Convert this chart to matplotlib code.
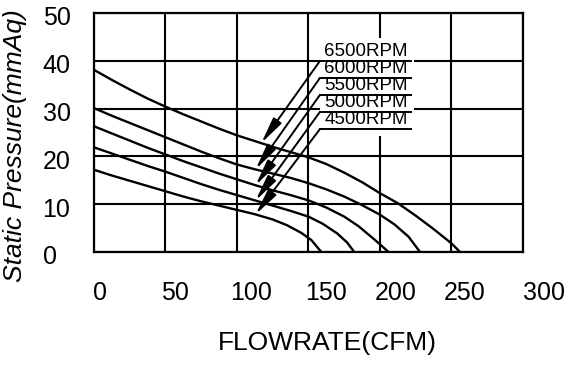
import numpy as np
import matplotlib
matplotlib.use("Agg")
import matplotlib.pyplot as plt
from matplotlib.transforms import ScaledTranslation
from matplotlib.patches import Rectangle

plt.rcParams['font.family'] = ['Liberation Sans', 'DejaVu Sans']

# data (flowrate CFM -> static pressure mmAq)
rpm_labels = ["6500RPM", "6000RPM", "5500RPM", "5000RPM", "4500RPM"]
cfm_6500 = [0, 12.5, 25, 37.5, 50, 62.5, 75, 87.5, 100, 112.5, 125, 137.5, 150,
            162.5, 175, 187.5, 200, 212.5, 225, 237.5, 250, 256]
sp_6500 = [38.1, 36.0, 34.0, 32.1, 30.4, 28.8, 27.3, 25.8, 24.4, 23.2, 22.0, 20.9, 19.8,
           18.4, 16.6, 14.6, 12.3, 10.2, 7.6, 4.8, 1.8, 0]
cfm_6000 = [0, 12.5, 25, 37.5, 50, 62.5, 75, 87.5, 100, 112.5, 125, 137.5, 150,
            162.5, 175, 187.5, 200, 210, 220, 228]
sp_6000 = [30.1, 28.5, 27.0, 25.5, 24.0, 22.5, 21.0, 19.6, 18.3, 17.3, 16.4, 15.5, 14.4,
           13.1, 11.6, 9.8, 7.8, 5.8, 3.2, 0]
cfm_5500 = [0, 12.5, 25, 37.5, 50, 62.5, 75, 87.5, 100, 112.5, 125, 137.5, 150,
            162.5, 175, 185, 195, 200, 206]
sp_5500 = [26.3, 24.8, 23.3, 21.8, 20.4, 19.0, 17.7, 16.4, 15.2, 14.0, 12.9, 11.9, 10.8,
           9.3, 7.4, 5.4, 2.9, 1.6, 0]
cfm_5000 = [0, 12.5, 25, 37.5, 50, 62.5, 75, 87.5, 100, 112.5, 125, 137.5, 150,
            160, 170, 177, 182]
sp_5000 = [21.9, 20.6, 19.3, 18.0, 16.8, 15.5, 14.2, 13.0, 11.9, 10.8, 9.7, 8.6, 7.4,
           5.9, 3.9, 2.0, 0]
cfm_4500 = [0, 12.5, 25, 37.5, 50, 62.5, 75, 87.5, 100, 112.5, 125, 135, 145, 152, 159]
sp_4500 = [17.2, 16.0, 14.9, 13.8, 12.7, 11.6, 10.6, 9.7, 8.8, 7.9, 6.8, 5.6, 4.0, 2.5, 0]
x_ticks = [0, 50, 100, 150, 200, 250, 300]
y_ticks = [0, 10, 20, 30, 40, 50]

curves = [(cfm_6500, sp_6500), (cfm_6000, sp_6000), (cfm_5500, sp_5500),
          (cfm_5000, sp_5000), (cfm_4500, sp_4500)]

fig = plt.figure(figsize=(5.83, 3.69), dpi=100)
ax = fig.add_axes([0.1612, 0.3171, 0.7358, 0.6477])
ax.set_xlim(0, 300)
ax.set_ylim(0, 50)
ax.set_axisbelow(True)
ax.grid(True, color='black', linewidth=1.5)
for s in ax.spines.values():
    s.set_linewidth(1.6)

for x, y in curves:
    ax.plot(x, y, color='black', linewidth=1.7, zorder=2)

# white block behind the labels
ax.add_patch(Rectangle((158, 24.3), 66, 20.4, facecolor='white',
                       edgecolor='none', zorder=1.5))

# labels with leader arrows
under_y = [39.96, 36.4, 32.85, 29.3, 25.7]
tip_x = [117, 113, 113, 113, 113]
for i in range(len(rpm_labels)):
    x, y = curves[i]
    ty = np.interp(tip_x[i], x, y)
    ax.plot([158, 222], [under_y[i], under_y[i]], color='black', linewidth=1.4, zorder=3)
    ax.annotate('', xy=(tip_x[i], ty), xytext=(158, under_y[i]),
                arrowprops=dict(arrowstyle='-|>,head_length=1.6,head_width=0.3',
                                color='black', lw=1.4, shrinkA=0, shrinkB=0,
                                mutation_scale=10), zorder=3)
    ax.text(161, under_y[i] + 0.2, rpm_labels[i], fontsize=13.5,
            ha='left', va='bottom', zorder=3)

ax.set_xticks(x_ticks)
ax.set_yticks(y_ticks)
ax.tick_params(axis='both', length=0, labelsize=18)
ax.tick_params(axis='x', pad=21)
ax.tick_params(axis='y', pad=37)
for lab in ax.get_yticklabels():
    lab.set_ha('left')
    lab.set_transform(lab.get_transform() + ScaledTranslation(0, -0.03, fig.dpi_scale_trans))
# the printed labels drift right of the grid lines
nudge_px = [6, 9, 14, 18, 16, 13, 21]
for lab, dx in zip(ax.get_xticklabels(), nudge_px):
    lab.set_transform(lab.get_transform() + ScaledTranslation(dx / 100, 0, fig.dpi_scale_trans))

ax.set_xlabel('FLOWRATE(CFM)', fontsize=19)
ax.xaxis.set_label_coords(0.543, -0.331)
ax.set_ylabel('Static Pressure(mmAq)', fontsize=19, style='italic')
ax.yaxis.set_label_coords(-0.155, 0.443)

fig.savefig('out.png', dpi=100)
